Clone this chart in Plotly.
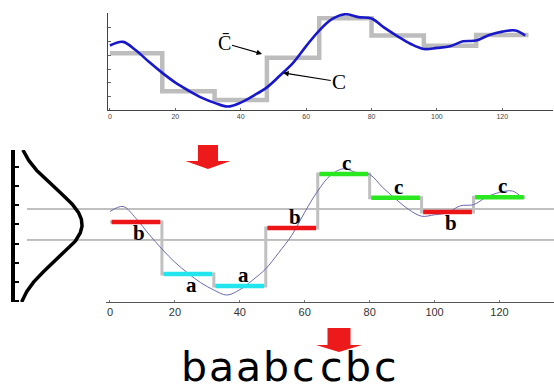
import numpy as np
import plotly.graph_objects as go

# ---------------- data ----------------
# original series C (z-normalised)
t_vals = [0, 4, 8, 12, 16, 20, 24, 28, 32, 36, 40, 44, 48, 52, 56, 60, 64,
          68, 72, 76, 80, 84, 88, 92, 96, 100, 104, 108, 112, 116, 120, 124, 127]
c_vals = [0.36, 0.50, 0.17, -0.27, -0.68, -1.05, -1.35, -1.62, -1.82, -1.96, -1.81,
          -1.54, -1.23, -0.78, -0.30, 0.34, 0.93, 1.37, 1.55, 1.44, 1.39, 1.03,
          0.71, 0.42, 0.23, 0.27, 0.33, 0.52, 0.55, 0.76, 0.89, 0.93, 0.74]

# PAA segments (C-bar)
seg_len = 16
seg_starts = [0, 16, 32, 48, 64, 80, 96, 112]
paa_vals = [0.07, -1.375, -1.71, -0.10, 1.40, 0.74, 0.35, 0.76]
symbols = ["b", "a", "a", "b", "c", "c", "b", "c"]
label_side = [-1, -1, 1, 1, 1, 1, -1, 1]   # letter below (-1) / above (+1) the bar

# SAX breakpoints for an alphabet of 3
breakpoints = [-0.43, 0.43]
gauss_mean, gauss_sd = 0.0, 1.0

x_ticks = [0, 20, 40, 60, 80, 100, 120]

sym_colors = {"a": "#22e6ee", "b": "#ec1416", "c": "#2ae820"}

# ---------------- layout helpers ----------------
W, H = 554, 392
def px(x):
    return x / W
def py(y):
    return 1 - y / H

fig = go.Figure()

# ---------- top chart ----------
step_x = seg_starts + [seg_starts[-1] + seg_len]
step_y = paa_vals + [paa_vals[-1]]
fig.add_trace(go.Scatter(x=step_x, y=step_y, mode="lines", line_shape="hv",
                         line=dict(color="#bdbdbd", width=4.5),
                         xaxis="x", yaxis="y", hoverinfo="skip"))
fig.add_trace(go.Scatter(x=t_vals, y=c_vals, mode="lines", line_shape="spline",
                         line=dict(color="#1818c8", width=2.6),
                         xaxis="x", yaxis="y", hoverinfo="skip"))

# ---------- bottom chart ----------
fig.add_trace(go.Scatter(x=step_x, y=step_y, mode="lines", line_shape="hv",
                         line=dict(color="#c0c0c0", width=3),
                         xaxis="x2", yaxis="y2", hoverinfo="skip"))
fig.add_trace(go.Scatter(x=t_vals, y=c_vals, mode="lines", line_shape="spline",
                         line=dict(color="#6a6ab0", width=1),
                         xaxis="x2", yaxis="y2", hoverinfo="skip"))
for s, v, sym in zip(seg_starts, paa_vals, symbols):
    fig.add_trace(go.Scatter(x=[s + 0.5, s + seg_len - 0.5], y=[v, v], mode="lines",
                             line=dict(color=sym_colors[sym], width=4.5),
                             xaxis="x2", yaxis="y2", hoverinfo="skip"))

annotations = []
for s, v, sym, side in zip(seg_starts, paa_vals, symbols, label_side):
    annotations.append(dict(x=s + seg_len / 2 + 1, y=v, xref="x2", yref="y2",
                            text="<b>" + sym + "</b>", showarrow=False,
                            yshift=side * 11, yanchor="middle",
                            font=dict(family="Liberation Serif", size=21, color="black")))

# ---------- Gaussian ----------
gy = np.linspace(-2.153, 2.069, 200)
gx = np.exp(-0.5 * ((gy - gauss_mean) / gauss_sd) ** 2) / (gauss_sd * np.sqrt(2 * np.pi))
fig.add_trace(go.Scatter(x=gx, y=gy, mode="lines", line=dict(color="black", width=3.5),
                         xaxis="x3", yaxis="y3", hoverinfo="skip"))

shapes = []
for b in breakpoints:
    shapes.append(dict(type="line", xref="paper", yref="y2", x0=px(27), x1=1, y0=b, y1=b,
                       line=dict(color="#808080", width=1), layer="below"))

# red arrows
def red_arrow(cx, top, rect_w, rect_h, head_w, head_h):
    x0, x1 = cx - rect_w / 2, cx + rect_w / 2
    hb = top + rect_h
    path = (f"M {px(x0)} {py(top)} L {px(x1)} {py(top)} L {px(x1)} {py(hb)} "
            f"L {px(cx + head_w / 2)} {py(hb)} L {px(cx)} {py(hb + head_h)} "
            f"L {px(cx - head_w / 2)} {py(hb)} L {px(x0)} {py(hb)} Z")
    return dict(type="path", xref="paper", yref="paper", path=path,
                fillcolor="#ec1a1a", line=dict(width=0))
shapes.append(red_arrow(208, 145, 20, 16, 45, 8))
shapes.append(red_arrow(339, 328, 23, 17, 46, 7))

# C-bar and C labels
annotations.append(dict(x=46.5, y=0.04, xref="x", yref="y", text="C\u0304",
                        showarrow=True, ax=-38, ay=-11, arrowhead=2, arrowsize=0.9,
                        arrowwidth=1.2, arrowcolor="black",
                        font=dict(family="Liberation Serif", size=20, color="black")))
annotations.append(dict(x=53.0, y=-0.68, xref="x", yref="y", text="C",
                        showarrow=True, ax=56, ay=9, arrowhead=2, arrowsize=0.9,
                        arrowwidth=1.2, arrowcolor="black",
                        font=dict(family="Liberation Serif", size=21, color="black")))

# SAX word
word = "".join(symbols)
for i, ch in enumerate(word):
    annotations.append(dict(x=px(194 + i * 27.4), y=py(367), xref="paper", yref="paper",
                            text=ch, showarrow=False, xanchor="center", yanchor="middle",
                            font=dict(family="DejaVu Sans", size=41, color="black")))

axis_common = dict(showgrid=False, zeroline=False)
fig.update_layout(
    width=W, height=H, margin=dict(l=0, r=0, t=0, b=0),
    paper_bgcolor="white", plot_bgcolor="rgba(0,0,0,0)", showlegend=False,
    xaxis=dict(domain=[px(108), px(553)], range=[-0.6, 135.5], anchor="y",
               showline=True, linecolor="#444", linewidth=1, tickvals=x_ticks,
               ticks="inside", ticklen=2, tickcolor="#666",
               tickfont=dict(family="Liberation Sans", size=7, color="#444"), **axis_common),
    yaxis=dict(domain=[py(110), py(13)], range=[-2.091, 1.597], anchor="x",
               showline=True, linecolor="#444", linewidth=1, tick0=0, dtick=0.532,
               ticks="inside", ticklen=3, tickcolor="#666", showticklabels=False,
               **axis_common),
    xaxis2=dict(domain=[px(106), 1], range=[-1.23, 136.8], anchor="y2",
                showline=True, linecolor="#555", linewidth=1, tickvals=x_ticks,
                ticks="inside", ticklen=2, tickcolor="#777",
                tickfont=dict(family="Liberation Sans", size=11, color="#333"), **axis_common),
    yaxis2=dict(domain=[py(302), py(150)], range=[-2.153, 2.069], anchor="x2",
                visible=False, **axis_common),
    xaxis3=dict(domain=[px(15), px(95)], range=[0, 0.476], anchor="y3", visible=False,
                **axis_common),
    yaxis3=dict(domain=[py(302), py(150)], range=[-2.153, 2.069], anchor="x3",
                showline=True, linecolor="black", linewidth=4, tick0=0, dtick=0.53,
                ticks="inside", ticklen=4, tickwidth=2, tickcolor="black",
                showticklabels=False, **axis_common),
    shapes=shapes, annotations=annotations,
)

fig.write_html("out.html")
